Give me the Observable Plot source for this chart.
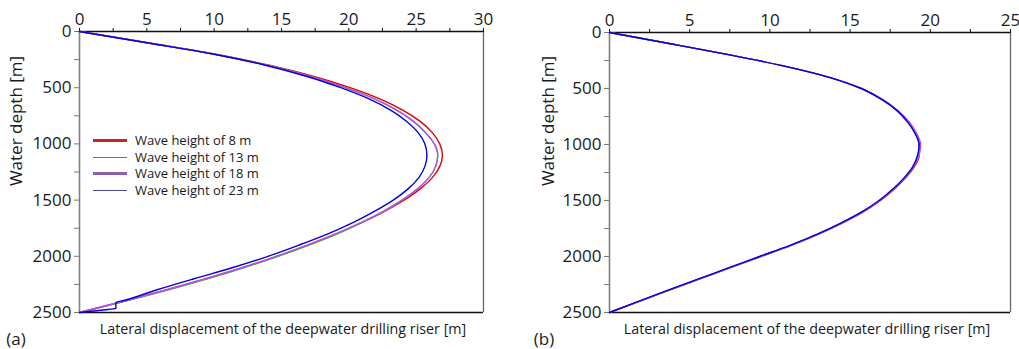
<!DOCTYPE html>
<html><head><meta charset="utf-8">
<script src="https://cdn.jsdelivr.net/npm/d3@7"></script>
<script src="https://cdn.jsdelivr.net/npm/@observablehq/plot@0.6"></script>
<style>
body{margin:0;background:#fff;}
#wrap{position:relative;width:1019px;height:349px;font-family:"Open Sans",sans-serif;color:#1a1a1a;overflow:hidden;}
.panel{position:absolute;top:0;}
.t{position:absolute;white-space:nowrap;line-height:1;}
.rot{transform:translate(-50%,-50%) rotate(-90deg);}
.ctr{transform:translate(-50%,-50%);}
.leg{position:absolute;left:93px;top:132px;font-size:13px;line-height:16.7px;}
.leg div{display:flex;align-items:center;height:16.7px;}
.leg span.sw{display:inline-block;width:34px;margin-right:8px;}
</style></head>
<body><div id="wrap"></div>
<script>
// ---- Panel (a): lateral displacement [m] vs water depth [m]
const depthA = [0,100,200,300,400,500,600,700,800,900,1000,1100,1200,1300,1400,1500,1600,1700,1800,1900,2000,2100,2200,2300,2400,2500];
const aWave8  = [0,5.1,10.0,14.1,17.4,20.1,22.3,24.0,25.3,26.2,26.75,26.95,26.75,26.2,25.3,24.1,22.65,20.95,19.05,16.95,14.65,12.15,9.4,6.45,3.3,0];
const aWave13 = [0,5.0,9.95,13.95,17.15,19.75,21.9,23.55,24.8,25.7,26.35,26.6,26.45,25.95,25.1,23.95,22.6,20.95,19.15,17.05,14.75,12.25,9.5,6.55,3.35,0];
const aWave18 = [0,5.0,9.95,13.95,17.15,19.75,21.9,23.55,24.8,25.7,26.35,26.6,26.45,25.95,25.1,23.95,22.55,20.9,19.0,16.9,14.6,12.1,9.35,6.4,3.25,0];
const depthA23 = [0,100,200,300,400,500,600,700,800,900,1000,1100,1200,1300,1400,1500,1600,1700,1800,1900,2000,2100,2200,2300,2393,2411,2464,2473,2500];
const aWave23 = [0,5.0,9.9,13.8,16.9,19.4,21.5,23.1,24.3,25.15,25.65,25.8,25.65,25.2,24.4,23.3,21.9,20.3,18.45,16.3,14.0,11.4,8.5,5.7,3.3,2.7,2.7,2.1,0];

// ---- Panel (b)
const depthB = [0,100,200,300,400,500,600,700,800,900,1000,1100,1200,1300,1400,1500,1600,1700,1800,1900,2000,2100,2200,2300,2400,2500];
const bWave8  = [0,3.8,7.5,10.9,13.7,15.7,17.0,17.95,18.6,19.05,19.3,19.3,19.0,18.45,17.75,16.9,15.85,14.55,13.05,11.35,9.45,7.55,5.65,3.75,1.85,0];
const bWave13 = [0,3.8,7.5,10.9,13.7,15.7,17.0,17.95,18.6,19.05,19.3,19.25,18.95,18.4,17.7,16.85,15.8,14.5,13.0,11.3,9.4,7.5,5.6,3.7,1.85,0];
const bWave18 = [0,3.8,7.5,10.9,13.7,15.7,17.05,18.0,18.7,19.15,19.4,19.3,18.95,18.4,17.7,16.85,15.8,14.5,13.0,11.3,9.4,7.5,5.6,3.7,1.85,0];
const bWave23 = [0,3.8,7.5,10.9,13.7,15.7,17.0,17.95,18.6,19.05,19.3,19.2,18.9,18.35,17.65,16.8,15.75,14.45,12.95,11.25,9.35,7.45,5.55,3.65,1.8,0];

const seriesNames = ["Wave height of 8 m","Wave height of 13 m","Wave height of 18 m","Wave height of 23 m"];
const lineColors  = ["#e00000","#22c022","#c848f0","#0000e0"];
const legendColors= ["#c4262b","#3c963c","#8a62ac","#4a4a9c"];
const legendWidths= [3,1.5,3,1.5];

const xTicksA = [0,2.5,5,7.5,10,12.5,15,17.5,20,22.5,25,27.5,30];
const xTicksB = [0,2.5,5,7.5,10,12.5,15,17.5,20,22.5,25];
const yTicks  = [0,250,500,750,1000,1250,1500,1750,2000,2250,2500];
const xDomainA = [0,30], xDomainB = [0,25], yDomain = [0,2500];

const xLabel = "Lateral displacement of the deepwater drilling riser [m]";
const yLabel = "Water depth [m]";

function rows(depths, xs, s){ return depths.map((d,i)=>({depth:d, disp:xs[i], s})); }

function panel(series, xDomain, xTicks, m){
  const marks = [
    Plot.ruleX([xDomain[1]], {stroke:"#666", strokeWidth:1.3}),
    Plot.ruleX([xDomain[0]], {stroke:"#808080", strokeWidth:1.6}),
    Plot.ruleY([yDomain[1]], {stroke:"#111", strokeWidth:1.6}),
    Plot.ruleY([yDomain[0]], {stroke:"#111", strokeWidth:1.6}),
    Plot.axisX({anchor:"top", ticks:xTicks, tickSize:4, tickPadding:3, stroke:"#111",
      tickFormat: d => d % 5 === 0 ? String(d) : "", label:null}),
    Plot.axisY({anchor:"left", ticks:yTicks, tickSize:5, tickPadding:3, stroke:"#777",
      tickFormat: d => d % 500 === 0 ? String(d) : "", label:null}),
  ];
  series.forEach((data,i)=>{
    marks.push(Plot.line(data, {x:"disp", y:"depth", stroke:lineColors[i], strokeWidth:1.4, curve:"monotone-y"}));
  });
  return Plot.plot({
    width:510, height:349,
    marginLeft:m.l, marginRight:m.r, marginTop:m.t, marginBottom:m.b,
    style:{fontFamily:"'Open Sans',sans-serif", fontSize:"17px", color:"#1a1a1a", background:"white"},
    x:{domain:xDomain},
    y:{domain:yDomain, reverse:true},
    marks
  });
}

const wrap = document.getElementById("wrap");

const seriesA = [rows(depthA,aWave8,0), rows(depthA,aWave13,1), rows(depthA,aWave18,2), rows(depthA23,aWave23,3)];
const seriesB = [rows(depthB,bWave8,0), rows(depthB,bWave13,1), rows(depthB,bWave18,2), rows(depthB,bWave23,3)];

const pa = panel(seriesA, xDomainA, xTicksA, {l:79, r:27, t:31, b:37});
pa.classList.add("panel"); pa.style.left = "0px";
wrap.appendChild(pa);
const pb = panel(seriesB, xDomainB, xTicksB, {l:100, r:9, t:32, b:37});
pb.classList.add("panel"); pb.style.left = "509px";
wrap.appendChild(pb);

function addText(txt, x, y, size, cls){
  const d = document.createElement("div");
  d.className = "t " + cls; d.textContent = txt;
  d.style.left = x+"px"; d.style.top = y+"px"; d.style.fontSize = size+"px";
  wrap.appendChild(d);
}
addText(yLabel, 15, 121, 17, "rot");
addText(yLabel, 547, 121, 17, "rot");
addText(xLabel, 283, 329, 14.3, "ctr");
addText(xLabel, 807, 329, 14.3, "ctr");
addText("(a)", 16, 338, 17, "ctr");
addText("(b)", 544, 338, 17, "ctr");

// legend
const leg = document.createElement("div");
leg.className = "leg";
seriesNames.forEach((n,i)=>{
  const r = document.createElement("div");
  const sw = document.createElement("span");
  sw.className = "sw";
  sw.style.borderTop = legendWidths[i]+"px solid "+legendColors[i];
  r.appendChild(sw);
  r.appendChild(document.createTextNode(n));
  leg.appendChild(r);
});
wrap.appendChild(leg);
</script></body></html>
